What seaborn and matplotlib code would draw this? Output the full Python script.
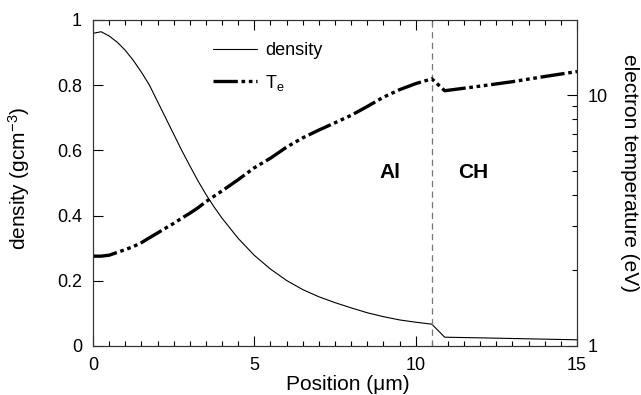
import matplotlib
matplotlib.use("Agg")
import matplotlib.pyplot as plt
import seaborn as sns
import pandas as pd
from matplotlib.ticker import MultipleLocator, FixedLocator, NullFormatter, FuncFormatter

# ---- data ----
position = [0, 0.25, 0.5, 0.75, 1, 1.25, 1.5, 1.75, 2, 2.25, 2.5, 2.75, 3, 3.25,
            3.5, 3.75, 4, 4.5, 5, 5.5, 6, 6.5, 7, 7.5, 8, 8.5, 9, 9.5, 10,
            10.5, 10.9, 12, 13, 14, 15]
density = [0.959, 0.964, 0.951, 0.932, 0.907, 0.876, 0.84, 0.80, 0.75, 0.70,
           0.65, 0.60, 0.553, 0.507, 0.465, 0.427, 0.392, 0.33, 0.278, 0.236,
           0.201, 0.173, 0.151, 0.133, 0.117, 0.102, 0.09, 0.08, 0.073, 0.067,
           0.027, 0.025, 0.023, 0.021, 0.019]
te = [2.28, 2.28, 2.3, 2.36, 2.42, 2.49, 2.58, 2.7, 2.82, 2.95, 3.08, 3.23,
      3.38, 3.55, 3.76, 3.95, 4.15, 4.6, 5.13, 5.6, 6.2, 6.75, 7.25, 7.75,
      8.3, 9.0, 9.8, 10.5, 11.1, 11.6, 10.4, 10.85, 11.3, 11.85, 12.4]
interface = 10.5
region_labels = ["Al", "CH"]
region_x = [9.2, 11.78]
region_y = 0.532
x_ticks = [0, 5, 10, 15]
left_ticks = [0, 0.2, 0.4, 0.6, 0.8, 1]
right_ticks = [1, 10]

df = pd.DataFrame({"position": position, "density": density, "te": te})

sns.set_style("ticks")
plt.rcParams["font.family"] = ["Liberation Sans", "DejaVu Sans"]
plt.rcParams["mathtext.default"] = "regular"
for k in ("text.color", "axes.labelcolor", "xtick.color", "ytick.color"):
    plt.rcParams[k] = "black"

fig = plt.figure(figsize=(6.41, 3.95), dpi=100)
ax = fig.add_axes([93 / 641, 1 - 346 / 395, 484 / 641, 326 / 395])

sns.lineplot(data=df, x="position", y="density", ax=ax, color="black",
             lw=0.8, legend=False, sort=False, errorbar=None)
ax.axvline(interface, color="#777777", lw=0.9, ls=(0, (5, 3.5)))

ax2 = ax.twinx()
sns.lineplot(data=df, x="position", y="te", ax=ax2, color="black",
             lw=2.4, legend=False, sort=False, errorbar=None)
te_line = ax2.lines[0]
te_line.set_dashes((7.3, 1.1, 1.1, 1.1, 1.1, 1.1, 1.1, 1.1))
te_line.set_dash_capstyle("butt")

# axes limits and ticks
ax.set_xlim(0, 15)
ax.set_ylim(0, 1)
ax2.set_yscale("log")
ax2.set_ylim(1, 19.9)

ax.xaxis.set_major_locator(FixedLocator(x_ticks))
ax.xaxis.set_minor_locator(MultipleLocator(0.5))
ax.yaxis.set_major_locator(FixedLocator(left_ticks))
ax.yaxis.set_minor_locator(FixedLocator([]))
fmt = FuncFormatter(lambda v, p: f"{v:g}")
ax.xaxis.set_major_formatter(fmt)
ax.yaxis.set_major_formatter(fmt)

ax2.yaxis.set_major_locator(FixedLocator(right_ticks))
ax2.yaxis.set_minor_locator(FixedLocator([2, 3, 4, 5, 6, 7, 8, 9, 20]))
ax2.yaxis.set_major_formatter(fmt)
ax2.yaxis.set_minor_formatter(NullFormatter())

ax.tick_params(which="both", direction="in", top=True, right=False,
               labelsize=13, pad=8, width=0.8, color="black")
ax.tick_params(which="major", length=7)
ax.tick_params(which="minor", length=3.5)
ax2.tick_params(which="both", direction="in", labelsize=13, pad=8, width=0.8)
ax2.tick_params(which="major", length=7)
ax2.tick_params(which="minor", length=3.5)

for a in (ax, ax2):
    for s in a.spines.values():
        s.set_linewidth(0.8)
        s.set_color("#333333")

# labels
ax.set_xlabel("Position (μm)", fontsize=15)
ax.xaxis.set_label_coords(0.527, -0.088)
ax.set_ylabel("density (gcm$^{-3}$)", fontsize=15)
ax.yaxis.set_label_coords(-0.126, 0.514)
ax2.set_ylabel("electron temperature (eV)", fontsize=15, rotation=270,
               va="bottom")
ax2.yaxis.set_label_coords(1.089, 0.532)

for lab, xx in zip(region_labels, region_x):
    ax.text(xx, region_y, lab, fontsize=15, fontweight="bold",
            ha="center", va="center")

ax2.legend(handles=[ax.lines[0], te_line], labels=["density", "T$_e$"],
           loc="upper left", bbox_to_anchor=(213 / 641, 1 - 42 / 395),
           bbox_transform=fig.transFigure, frameon=False, fontsize=13,
           handlelength=2.45, handletextpad=0.45, labelspacing=0.75,
           borderpad=0, borderaxespad=0)

fig.savefig("out.png", dpi=100)
